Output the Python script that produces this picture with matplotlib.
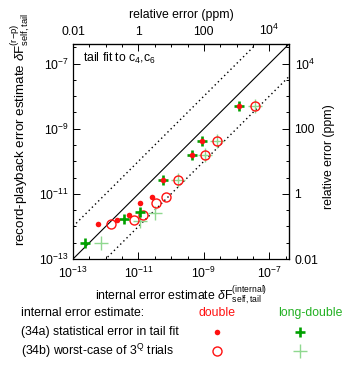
import numpy as np
import matplotlib
matplotlib.use("Agg")
import matplotlib.pyplot as plt

plt.rcParams['font.family'] = ['Liberation Sans', 'DejaVu Sans']
plt.rcParams['font.size'] = 8.8
plt.rcParams['mathtext.fontset'] = 'custom'
plt.rcParams['mathtext.rm'] = 'Liberation Sans'
plt.rcParams['mathtext.it'] = 'Liberation Sans:italic'

# reference force scale: relative error (ppm) = dF / F_REF * 1e6
F_REF = 1e-5

# double precision: (34a) statistical error, (34b) worst case of 3^Q trials
dbl_stat_x  = [5.9e-13, 2.2e-12, 5.1e-12, 1.1e-11, 2.6e-11, 5.8e-11, 4.3e-10, 8.5e-10, 1.15e-8]
dbl_worst_x = [1.5e-12, 7.4e-12, 1.35e-11, 3.5e-11, 6.8e-11, 1.66e-10, 1.05e-9, 2.6e-9, 3.7e-8]
dbl_rp_y    = [1.23e-12, 1.6e-12, 2.3e-12, 5.4e-12, 7.9e-12, 2.6e-11, 1.6e-10, 4.1e-10, 5.1e-9]

# long-double precision
ld_stat_x  = [2.3e-13, 3.5e-12, 1.1e-11, 5.8e-11, 4.3e-10, 8.5e-10, 1.15e-8]
ld_stat_y  = [3.2e-13, 1.7e-12, 2.8e-12, 2.6e-11, 1.6e-10, 4.1e-10, 5.1e-9]
ld_worst_x = [7.2e-13, 1.1e-11, 3.2e-11, 1.66e-10, 1.05e-9, 2.6e-9, 3.7e-8]
ld_worst_y = [3.2e-13, 1.5e-12, 2.5e-12, 2.6e-11, 1.6e-10, 4.1e-10, 5.1e-9]

lims = (1e-13, 4e-7)
major = [1e-13, 1e-11, 1e-9, 1e-7]
major_lbl = [r'$10^{-13}$', r'$10^{-11}$', r'$10^{-9}$', r'$10^{-7}$']
minor = 10.0 ** np.arange(-13, -6.3, 0.5)
ppm_major = [0.01, 1, 100, 1e4]
ppm_lbl = ['0.01', '1', '100', r'$10^4$']
ppm_minor = 10.0 ** np.arange(-2, 4.7, 0.5)

RED = '#ff1010'
GREEN = '#00a000'
LGREEN = '#8fd88f'

fig = plt.figure(figsize=(3.46, 3.67), dpi=100)
ax = fig.add_axes([73/346, 1 - 259/367, 216/346, 215/367])
ax.set_xscale('log')
ax.set_yscale('log')
ax.set_xlim(*lims)
ax.set_ylim(*lims)

# reference lines y = x and y = 10x, x/10
xl = np.array(lims)
ax.plot(xl, xl, color='black', lw=0.8, zorder=1)
ax.plot(xl, 10 * xl, color='black', lw=1.0, ls=(0, (1, 2.2)), zorder=1)
ax.plot(xl, xl / 10, color='black', lw=1.0, ls=(0, (1, 2.2)), zorder=1)

ax.plot(ld_worst_x, ld_worst_y, ls='none', marker='+', ms=10, mew=1.0, color=LGREEN, zorder=2)
ax.plot(dbl_worst_x, dbl_rp_y, ls='none', marker='o', ms=6.5, mew=1.0, mfc='none', mec=RED, zorder=3)
ax.plot(ld_stat_x, ld_stat_y, ls='none', marker='+', ms=6.5, mew=1.9, color=GREEN, zorder=4)
ax.plot(dbl_stat_x, dbl_rp_y, ls='none', marker='o', ms=4, mew=0, color=RED, zorder=5)

ax.text(0.045, 0.935, r'tail fit to c$_4$,c$_6$', transform=ax.transAxes, ha='left', va='center')

ax.set_xticks(major)
ax.set_xticklabels(major_lbl)
ax.set_yticks(major)
ax.set_yticklabels(major_lbl)
ax.set_xticks(minor, minor=True)
ax.set_yticks(minor, minor=True)
ax.xaxis.set_minor_formatter(plt.NullFormatter())
ax.yaxis.set_minor_formatter(plt.NullFormatter())
ax.tick_params(which='both', direction='in', top=False, right=False, width=0.7)
ax.tick_params(which='major', length=5, pad=3)
ax.tick_params(axis='x', which='major', pad=5)
ax.tick_params(which='minor', length=2.5)
for s in ax.spines.values():
    s.set_linewidth(0.9)

ax.set_xlabel(r'internal error estimate $\delta\mathrm{F}^{(\mathrm{internal})}_{\mathrm{self,tail}}$', labelpad=2)
ax.set_ylabel(r'record-playback error estimate $\delta\mathrm{F}^{(\mathrm{r{-}p})}_{\mathrm{self,tail}}$',
              fontsize=9.6)
ax.yaxis.set_label_coords(-0.19, 0.6)

to_ppm = (lambda v: v / F_REF * 1e6, lambda p: p * F_REF / 1e6)
top = ax.secondary_xaxis('top', functions=to_ppm)
right = ax.secondary_yaxis('right', functions=to_ppm)
top.set_xticks(ppm_major)
top.set_xticklabels(ppm_lbl)
top.set_xticks(ppm_minor, minor=True)
top.xaxis.set_minor_formatter(plt.NullFormatter())
right.set_yticks(ppm_major)
right.set_yticklabels(ppm_lbl)
right.set_yticks(ppm_minor, minor=True)
right.yaxis.set_minor_formatter(plt.NullFormatter())
for sec in (top, right):
    sec.tick_params(which='both', direction='in', width=0.7)
    sec.tick_params(which='major', length=5, pad=4)
    sec.tick_params(which='minor', length=2.5)
top.set_xlabel('relative error (ppm)', labelpad=4)
fig.text(329 / 346, 1 - 157 / 367, 'relative error (ppm)', rotation=90, ha='center', va='center')

# key table below the plot
col_dbl = 217 / 346
col_ld = 300 / 346
rows = [1 - 313 / 367, 1 - 332 / 367, 1 - 351 / 367]
fig.text(21 / 346, rows[0], 'internal error estimate:', ha='left', va='center')
fig.text(col_dbl, rows[0], 'double', color=RED, ha='center', va='center')
fig.text(310 / 346, rows[0], 'long-double', color='#22b022', ha='center', va='center')
fig.text(21 / 346, rows[1], '(34a) statistical error in tail fit', ha='left', va='center')
fig.text(21 / 346, rows[2], r'(34b) worst-case of 3$^\mathrm{Q}$ trials', ha='left', va='center')

key = fig.add_axes([0, 0, 1, 1], facecolor='none')
key.set_xlim(0, 1)
key.set_ylim(0, 1)
key.axis('off')
key.plot([col_dbl], [rows[1]], ls='none', marker='o', ms=4, mew=0, color=RED)
key.plot([col_ld], [rows[1]], ls='none', marker='+', ms=6.5, mew=1.9, color=GREEN)
key.plot([col_dbl], [rows[2]], ls='none', marker='o', ms=6.5, mew=1.0, mfc='none', mec=RED)
key.plot([col_ld], [rows[2]], ls='none', marker='+', ms=10, mew=1.0, color=LGREEN)

fig.savefig('out.png', dpi=100)
